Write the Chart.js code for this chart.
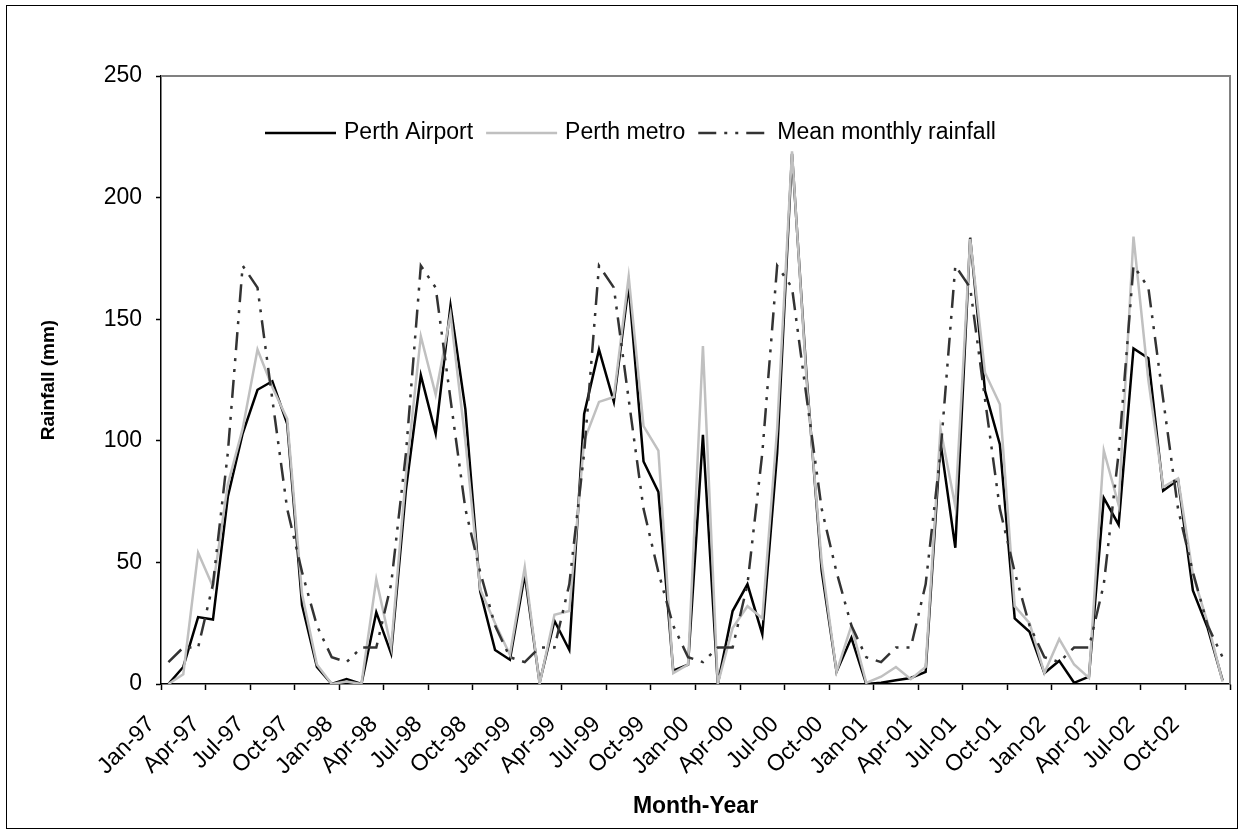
<!DOCTYPE html>
<html>
<head>
<meta charset="utf-8">
<title>Rainfall</title>
<script src="https://cdn.jsdelivr.net/npm/chart.js@4.4.1/dist/chart.umd.min.js"></script>
<style>
  html, body { margin: 0; padding: 0; background: #fff; }
  #grafico { display: block; }
</style>
</head>
<body>
<canvas id="grafico" width="1244" height="834"></canvas>
<script>
// meses (categorias do eixo x)
const meses = [
  "Jan-97","Feb-97","Mar-97","Apr-97","May-97","Jun-97","Jul-97","Aug-97","Sep-97","Oct-97","Nov-97","Dec-97",
  "Jan-98","Feb-98","Mar-98","Apr-98","May-98","Jun-98","Jul-98","Aug-98","Sep-98","Oct-98","Nov-98","Dec-98",
  "Jan-99","Feb-99","Mar-99","Apr-99","May-99","Jun-99","Jul-99","Aug-99","Sep-99","Oct-99","Nov-99","Dec-99",
  "Jan-00","Feb-00","Mar-00","Apr-00","May-00","Jun-00","Jul-00","Aug-00","Sep-00","Oct-00","Nov-00","Dec-00",
  "Jan-01","Feb-01","Mar-01","Apr-01","May-01","Jun-01","Jul-01","Aug-01","Sep-01","Oct-01","Nov-01","Dec-01",
  "Jan-02","Feb-02","Mar-02","Apr-02","May-02","Jun-02","Jul-02","Aug-02","Sep-02","Oct-02","Nov-02","Dec-02"
];

// chuva mensal (mm)
const perthAirport = [
  0, 7, 27.5, 26.5, 77, 103, 121, 124.5, 107, 32.5, 7, 0,
  2, 0, 29.5, 12.5, 80, 127, 103, 155.5, 113, 38, 14, 10,
  45, 0.5, 26, 14, 111, 137.5, 116, 164, 91.5, 79, 5.5, 8,
  102.5, 0, 30, 41, 20.5, 95, 218, 125, 46.5, 5, 19, 0,
  0.5, 1.5, 2.5, 5, 99.5, 56, 183.5, 120.5, 98.5, 27, 21.5, 4.5,
  9.5, 0.5, 3, 76.5, 65.5, 138, 134, 79.5, 84, 38.5, 23, 1.5
];

const perthMetro = [
  0, 4, 54, 40, 82, 105, 137.5, 122, 109, 37, 8, 0,
  1, 0, 43, 15, 86, 143, 119, 152, 100, 39, 25, 12,
  48, 0, 28.5, 30, 100, 116, 118, 167.5, 106, 96, 4.5, 8,
  139, 0, 23, 32, 27, 105, 219, 123, 50, 5, 24, 0.5,
  3, 7, 2, 7, 105, 73, 183, 128, 115, 32, 25, 4.5,
  18.5, 8, 2.5, 96, 73.5, 184, 125, 81, 84.5, 45, 25, 1
];

const mediaMensal = [
  9, 15, 15, 41, 95, 172, 163, 117, 72, 46, 24, 11,
  9, 15, 15, 41, 95, 172, 163, 117, 72, 46, 24, 11,
  9, 15, 15, 41, 95, 172, 163, 117, 72, 46, 24, 11,
  9, 15, 15, 41, 95, 172, 163, 117, 72, 46, 24, 11,
  9, 15, 15, 41, 95, 172, 163, 117, 72, 46, 24, 11,
  9, 15, 15, 41, 95, 172, 163, 117, 72, 46, 24, 11
];

const ticksY = [0, 50, 100, 150, 200, 250];

const FONTE = "'Liberation Sans', Arial, sans-serif";
Chart.defaults.font.family = FONTE;
Chart.defaults.color = "#000";

// moldura do gráfico + borda cinza do plot
const moldura = {
  id: "moldura",
  beforeDatasetsDraw(chart) {
    const { ctx, chartArea: a } = chart;
    ctx.save();
    ctx.strokeStyle = "#808080";
    ctx.lineWidth = 2;
    ctx.beginPath();
    ctx.moveTo(a.left, a.top);
    ctx.lineTo(a.right, a.top);
    ctx.lineTo(a.right, a.bottom);
    ctx.stroke();
    ctx.restore();
  },
  afterDraw(chart) {
    const ctx = chart.ctx;
    ctx.save();
    ctx.strokeStyle = "#000";
    ctx.lineWidth = 1;
    ctx.strokeRect(6.5, 5.5, 1231, 823);
    ctx.restore();
  }
};

// legenda dentro da área do gráfico, numa linha só
const legendaLinha = {
  id: "legendaLinha",
  afterDatasetsDraw(chart) {
    const ctx = chart.ctx;
    const y = 133;
    let x = 265;
    ctx.save();
    ctx.font = "23px " + FONTE;
    ctx.textBaseline = "middle";
    ctx.fillStyle = "#000";
    chart.data.datasets.forEach((ds) => {
      ctx.strokeStyle = ds.borderColor;
      ctx.lineWidth = ds.borderWidth;
      ctx.setLineDash(ds.borderDash || []);
      ctx.beginPath();
      ctx.moveTo(x, y);
      ctx.lineTo(x + 71, y);
      ctx.stroke();
      ctx.setLineDash([]);
      x += 79;
      ctx.fillText(ds.label, x, y);
      x += ctx.measureText(ds.label).width + 13;
    });
    ctx.restore();
  }
};

const ctx = document.getElementById("grafico").getContext("2d");
new Chart(ctx, {
  type: "line",
  data: {
    labels: meses,
    datasets: [
      {
        label: "Perth Airport",
        data: perthAirport,
        borderColor: "#000000",
        borderWidth: 2.5,
        pointRadius: 0,
        order: 3
      },
      {
        label: "Perth metro",
        data: perthMetro,
        borderColor: "#c0c0c0",
        borderWidth: 2.5,
        pointRadius: 0,
        order: 2
      },
      {
        label: "Mean monthly rainfall",
        data: mediaMensal,
        borderColor: "#333333",
        borderWidth: 2.5,
        borderDash: [18, 8, 3, 8, 3, 8],
        pointRadius: 0,
        order: 1
      }
    ]
  },
  options: {
    responsive: false,
    animation: false,
    layout: { padding: { top: 76, right: 14, left: 33, bottom: 10 } },
    plugins: {
      legend: { display: false },
      tooltip: { enabled: false }
    },
    scales: {
      x: {
        offset: true,
        grid: {
          offset: true,
          drawOnChartArea: false,
          tickLength: 6,
          tickWidth: 1.5,
          tickColor: (c) => (c.index === undefined || c.index % 3 === 0 ? "#000" : "rgba(0,0,0,0)")
        },
        border: { color: "#000", width: 1.5 },
        ticks: {
          autoSkip: false,
          minRotation: 45,
          maxRotation: 45,
          padding: 21,
          labelOffset: -17,
          font: { size: 23 },
          callback: (v, i) => (i % 3 === 0 ? meses[i] : "")
        },
        title: {
          display: true,
          text: "Month-Year",
          font: { size: 23, weight: "bold" }
        },
        afterFit: (s) => {
          s.height = 140;
          s.paddingLeft = 0;
          s.paddingRight = 0;
        }
      },
      y: {
        min: 0,
        max: 250,
        afterBuildTicks: (s) => { s.ticks = ticksY.map((v) => ({ value: v })); },
        grid: {
          drawOnChartArea: false,
          tickLength: 5,
          tickWidth: 1.5,
          tickColor: "#000"
        },
        border: { color: "#000", width: 1.5 },
        ticks: { padding: 14, font: { size: 23 } },
        title: {
          display: true,
          text: "Rainfall (mm)",
          font: { size: 19, weight: "bold" }
        },
        afterFit: (s) => { s.width = 128; }
      }
    }
  },
  plugins: [moldura, legendaLinha]
});
</script>
</body>
</html>
